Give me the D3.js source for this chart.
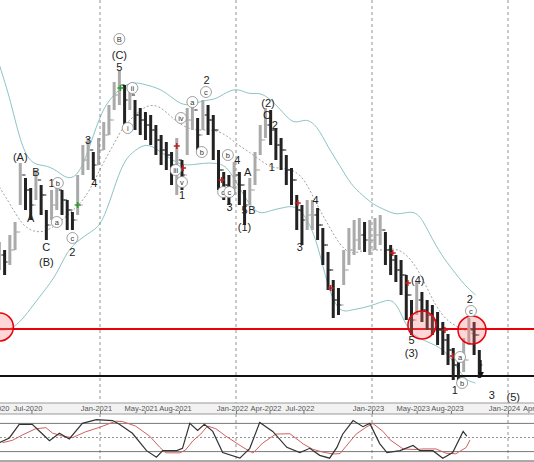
<!DOCTYPE html>
<html>
<head>
<meta charset="utf-8">
<script src="https://cdn.jsdelivr.net/npm/d3@7"></script>
<style>
  body { margin: 0; background: #fff; }
  text { font-family: "Liberation Sans", Arial, sans-serif; }
</style>
</head>
<body>
<div id="chart"></div>
<script>
// biweekly bars from Apr 2020, values in chart units
var closes = [145,138,150,168,225,210,195,220,205,175, 195,210,200,190,180,195,240,250,235,250,
  265,280,305,315,300,305,285,280,275,270, 260,250,245,235,240,225,280,290,265,285,
  280,270,230,215,210,225,215,195,210,230, 260,275,270,255,250,230,220,190,180,185,
  185,175,155,130,100,95,130,150,160,165, 160,160,165,170,150,140,130,125,105,80,
  100,90,85,80,70,60,50,35,22,40, 70,65,35];
var highs = [158,150,165,178,237,222,212,230,215,190, 210,222,210,200,188,225,255,262,248,262,
  278,295,318,330,315,315,300,292,288,285, 275,265,258,248,262,240,292,300,282,300,
  295,285,250,228,225,238,228,210,222,248, 275,292,290,272,262,245,232,205,195,200,
  200,192,172,148,120,112,150,172,180,182, 178,180,182,185,168,155,145,140,125,100,
  118,108,100,95,88,78,66,52,38,62, 82,78,50];
var lows = [130,125,135,150,195,190,180,200,185,160, 180,190,185,170,170,185,225,230,220,235,
  250,265,290,295,275,290,270,265,260,255, 245,235,230,215,205,210,245,270,250,270,
  265,240,210,200,195,205,195,175,195,215, 245,262,255,240,230,215,195,170,155,170,
  170,160,135,110,82,85,115,135,145,150, 148,145,150,155,135,125,118,105,80,65,
  85,78,70,65,55,45,35,20,15,28, 55,45,22];

// monthly band values from Apr 2020
var upperBand = [335,300,250,235,235,230,220,225,255,290,305,315,318,315,312,305,295,295,300,300,
  308,312,305,308,300,288,275,282,275,252,235,215,205,195,190,185,188,188,165,145,130,115,105];
var middleBand = [213,195,175,168,168,175,185,195,210,235,255,275,285,295,295,285,275,270,270,270,
  265,255,248,240,232,232,230,220,195,175,155,145,150,150,150,152,145,130,105,85,75,70,65];
var lowerBand = [70,70,80,95,110,125,150,160,168,175,210,240,250,257,250,242,235,235,237,237,
  235,215,195,185,190,192,195,185,160,110,87,90,92,95,100,100,70,62,57,52,40,20,17];

// oscillator: [bar position, value]
var oscPos = [0,1.9,3.8,6.3,8.3,9.6,11.5,13.4,15.9,18.6,21.7,23,25.5,28.2,30.1,31.3,34,35.1,36.5,38,
  39.3,40.9,42.8,46.1,48,49.9,52.4,55.1,57.6,59.5,61.4,63.3,64.7,65.8,67.8,69.7,71,72.9,74.3,76.8,
  79.3,80.6,83.1,85,86.9,88.9,89.6];
var oscVals = [39,49,78,78,57,43,59,47,80,88,86,78,59,22,8,22,22,27,80,65,
  78,63,18,6,27,82,63,29,18,27,12,6,29,57,86,73,80,37,18,22,
  33,22,22,6,18,63,53];

var supportLevel = 24, resistLevel = 71;

var tickLabels = ["Apr-2020","Jul-2020","Jan-2021","May-2021","Aug-2021","Jan-2022","Apr-2022",
  "Jul-2022","Jan-2023","May-2023","Aug-2023","Jan-2024","Apr-2024"];

// wave labels: [bar position, value, text, circled]
var waveLabels = [
  [4,243,"(A)",0],[7,228,"B",0],[6,182,"A",0],[9,153,"C",0],[9,138,"(B)",0],
  [10,217,"1",0],[11.2,217,"b",1],[11,178,"a",1],[14,162,"c",1],[14,148,"2",0],
  [17,260,"3",0],[18.2,217,"4",0],[23,361,"B",1],[23,345,"(C)",0],[23,333,"5",0],
  [25.5,312,"ii",1],[24.6,272,"i",1],[37,298,"a",1],[39.7,320,"2",0],[39.6,308,"c",1],
  [34.8,282,"iv",1],[38.8,248,"b",1],[33.8,230,"iii",1],[35,218,"v",1],[35,205,"1",0],
  [43.8,245,"b",1],[45.6,240,"4",0],[47.6,228,"A",0],[42.9,208,"c",1],[44.1,208,"c",1],
  [44.1,193,"3",0],[47,190,"5",0],[48.4,190,"B",0],[47,173,"(1)",0],
  [51.5,297,"(2)",0],[51.3,285,"C",0],[52.8,275,"2",0],[52.2,233,"1",0],
  [60.6,200,"4",0],[57.6,153,"3",0],[80.2,120,"(4)",0],[79,60,"5",0],[79,47,"(3)",0],
  [90.2,101,"2",0],[90.4,89,"c",1],[88.3,43,"a",1],[88.7,17,"b",1],[87.3,10,"1",0],
  [94.4,5,"3",0],[98.5,3,"(5)",0]
];
var buyMarks = [15, 23.2];
var sellMarks = [34, 35.2, 42.6, 57.2, 63.5, 75.4, 78.3, 85.4, 86.9];
var circles = [[0,73],[81,75],[90.6,70]];

var W = 534, H = 462, plotBottom = 403;
var svg = d3.select("#chart").append("svg").attr("width", W).attr("height", H);

var start = new Date(2020, 3, 6);
function barDate(p) { return new Date(start.getTime() + p * 14 * 864e5); }
function monthDate(m) { return new Date(2020, 3 + m, 6); }

var x = d3.scaleTime().domain([new Date(2021,0,1), new Date(2024,0,1)]).range([100, 508]);
var y = d3.scaleLinear().domain([0, 400]).range([400, 0]);
var yo = d3.scaleLinear().domain([0, 100]).range([461, 412]);

var main = svg.append("g");
main.append("clipPath").attr("id","clipMain").append("rect").attr("width", W).attr("height", plotBottom);
var plot = main.append("g").attr("clip-path","url(#clipMain)");

// year separators
var years = [new Date(2021,0,1), new Date(2022,0,1), new Date(2023,0,1), new Date(2024,0,1)];
svg.selectAll(".yr").data(years).enter().append("line")
  .attr("x1", d => x(d)).attr("x2", d => x(d)).attr("y1", 0).attr("y2", H)
  .attr("stroke", "#777").attr("stroke-dasharray", "3,3").attr("stroke-width", 0.8);

// bollinger bands
var bandLine = d3.line().x((d, i) => x(monthDate(i))).y(d => y(d)).curve(d3.curveBasis);
plot.append("path").datum(upperBand).attr("d", bandLine).attr("fill","none").attr("stroke","#8cc4c4").attr("stroke-width",1);
plot.append("path").datum(lowerBand).attr("d", bandLine).attr("fill","none").attr("stroke","#8cc4c4").attr("stroke-width",1);
plot.append("path").datum(middleBand).attr("d", bandLine).attr("fill","none").attr("stroke","#888").attr("stroke-dasharray","2,2").attr("stroke-width",0.8);

// levels
plot.append("line").attr("x1",0).attr("x2",W).attr("y1",y(resistLevel)).attr("y2",y(resistLevel)).attr("stroke","#e8000b").attr("stroke-width",2);
plot.append("line").attr("x1",0).attr("x2",W).attr("y1",y(supportLevel)).attr("y2",y(supportLevel)).attr("stroke","#111").attr("stroke-width",2);

// price bars
closes.forEach(function(c, i) {
  var col = (i > 0 && c < closes[i-1]) ? "#222" : "#aaa";
  var bx = x(barDate(i));
  plot.append("line").attr("x1", bx).attr("x2", bx)
    .attr("y1", y(highs[i])).attr("y2", y(lows[i])).attr("stroke", col).attr("stroke-width", 3);
  plot.append("line").attr("x1", bx).attr("x2", bx + 3)
    .attr("y1", y(c)).attr("y2", y(c)).attr("stroke", col).attr("stroke-width", 1);
  if (i > 0) plot.append("line").attr("x1", bx - 3).attr("x2", bx)
    .attr("y1", y(closes[i-1])).attr("y2", y(closes[i-1])).attr("stroke", col).attr("stroke-width", 1);
});

// red highlight circles
circles.forEach(function(c) {
  plot.append("circle").attr("cx", x(barDate(c[0]))).attr("cy", y(c[1])).attr("r", 14)
    .attr("fill", "rgba(255,120,120,0.3)").attr("stroke", "#e8000b").attr("stroke-width", 1.5);
});

// signal marks
buyMarks.forEach(function(p) {
  var cx = x(barDate(p)), cy = y(d3.interpolateNumber(closes[Math.floor(p)], closes[Math.ceil(p)])(p % 1));
  plot.append("path").attr("d", "M" + (cx-3) + "," + cy + "h6M" + cx + "," + (cy-3) + "v6").attr("stroke","#2a9d2a").attr("stroke-width",1.6);
});
sellMarks.forEach(function(p) {
  var cx = x(barDate(p)), cy = y(highs[Math.round(p)] - 8);
  plot.append("path").attr("d", "M" + (cx-3) + "," + cy + "h6M" + cx + "," + (cy-3) + "v6").attr("stroke","#b22").attr("stroke-width",1.6);
});

// arrow
var ax = x(barDate(92.3));
plot.append("line").attr("x1", ax).attr("x2", ax).attr("y1", y(40)).attr("y2", y(26)).attr("stroke","#111").attr("stroke-width",1.5);
plot.append("path").attr("d", "M" + (ax-3) + "," + y(28) + "L" + (ax+3) + "," + y(28) + "L" + ax + "," + y(22) + "Z").attr("fill","#111");

// wave labels
waveLabels.forEach(function(l) {
  var lx = x(barDate(l[0])), ly = y(l[1]);
  if (l[3]) {
    plot.append("circle").attr("cx", lx).attr("cy", ly).attr("r", 5.5).attr("fill","#fff").attr("stroke","#888").attr("stroke-width",0.8);
    plot.append("text").attr("x", lx).attr("y", ly + 2.5).attr("text-anchor","middle").attr("font-size", 7.5).attr("fill","#333").text(l[2]);
  } else {
    plot.append("text").attr("x", lx).attr("y", ly + 4).attr("text-anchor","middle").attr("font-size", 11).attr("fill","#222").text(l[2]);
  }
});

// x axis band
svg.append("rect").attr("x",0).attr("y",plotBottom).attr("width",W).attr("height",11).attr("fill","#f2f2f2");
svg.append("line").attr("x1",0).attr("x2",W).attr("y1",plotBottom).attr("y2",plotBottom).attr("stroke","#999");
svg.append("line").attr("x1",0).attr("x2",W).attr("y1",414).attr("y2",414).attr("stroke","#999");
var fmt = d3.timeParse("%b-%Y");
var tickDates = tickLabels.map(t => fmt(t));
var axis = d3.axisTop(x).tickValues(tickDates).tickFormat(d3.timeFormat("%b-%Y")).tickSize(3);
var ax2 = svg.append("g").attr("transform","translate(0,414)").call(axis);
ax2.select(".domain").remove();
ax2.selectAll("line").attr("stroke","#777");
ax2.selectAll("text").attr("font-size", 7.5).attr("fill","#555").attr("dx", -4).attr("dy", 2.5);

// oscillator
var yo2 = d3.scaleLinear().domain([0, 100]).range([461, 414]);
yo = yo2;
svg.append("line").attr("x1",0).attr("x2",W).attr("y1",yo(80)).attr("y2",yo(80)).attr("stroke","#555").attr("stroke-width",0.8);
svg.append("line").attr("x1",0).attr("x2",W).attr("y1",yo(20)).attr("y2",yo(20)).attr("stroke","#555").attr("stroke-width",0.8);
svg.append("line").attr("x1",0).attr("x2",W).attr("y1",yo(50)).attr("y2",yo(50)).attr("stroke","#777").attr("stroke-dasharray","2,2").attr("stroke-width",0.8);
svg.append("line").attr("x1",0).attr("x2",W).attr("y1",461).attr("y2",461).attr("stroke","#555");

var oscData = oscPos.map((p, i) => [p, oscVals[i]]);
var signal = oscData.map(function(d, i) {
  var s = oscData.slice(Math.max(0, i - 2), i + 1);
  return [d[0] + 0.6, d3.mean(s, e => e[1])];
});
var oscLine = d3.line().x(d => x(barDate(d[0]))).y(d => yo(d[1]));
svg.append("path").datum(signal).attr("d", oscLine).attr("fill","none").attr("stroke","#d06060").attr("stroke-width",1);
svg.append("path").datum(oscData).attr("d", oscLine).attr("fill","none").attr("stroke","#333").attr("stroke-width",1.2);
</script>
</body>
</html>
